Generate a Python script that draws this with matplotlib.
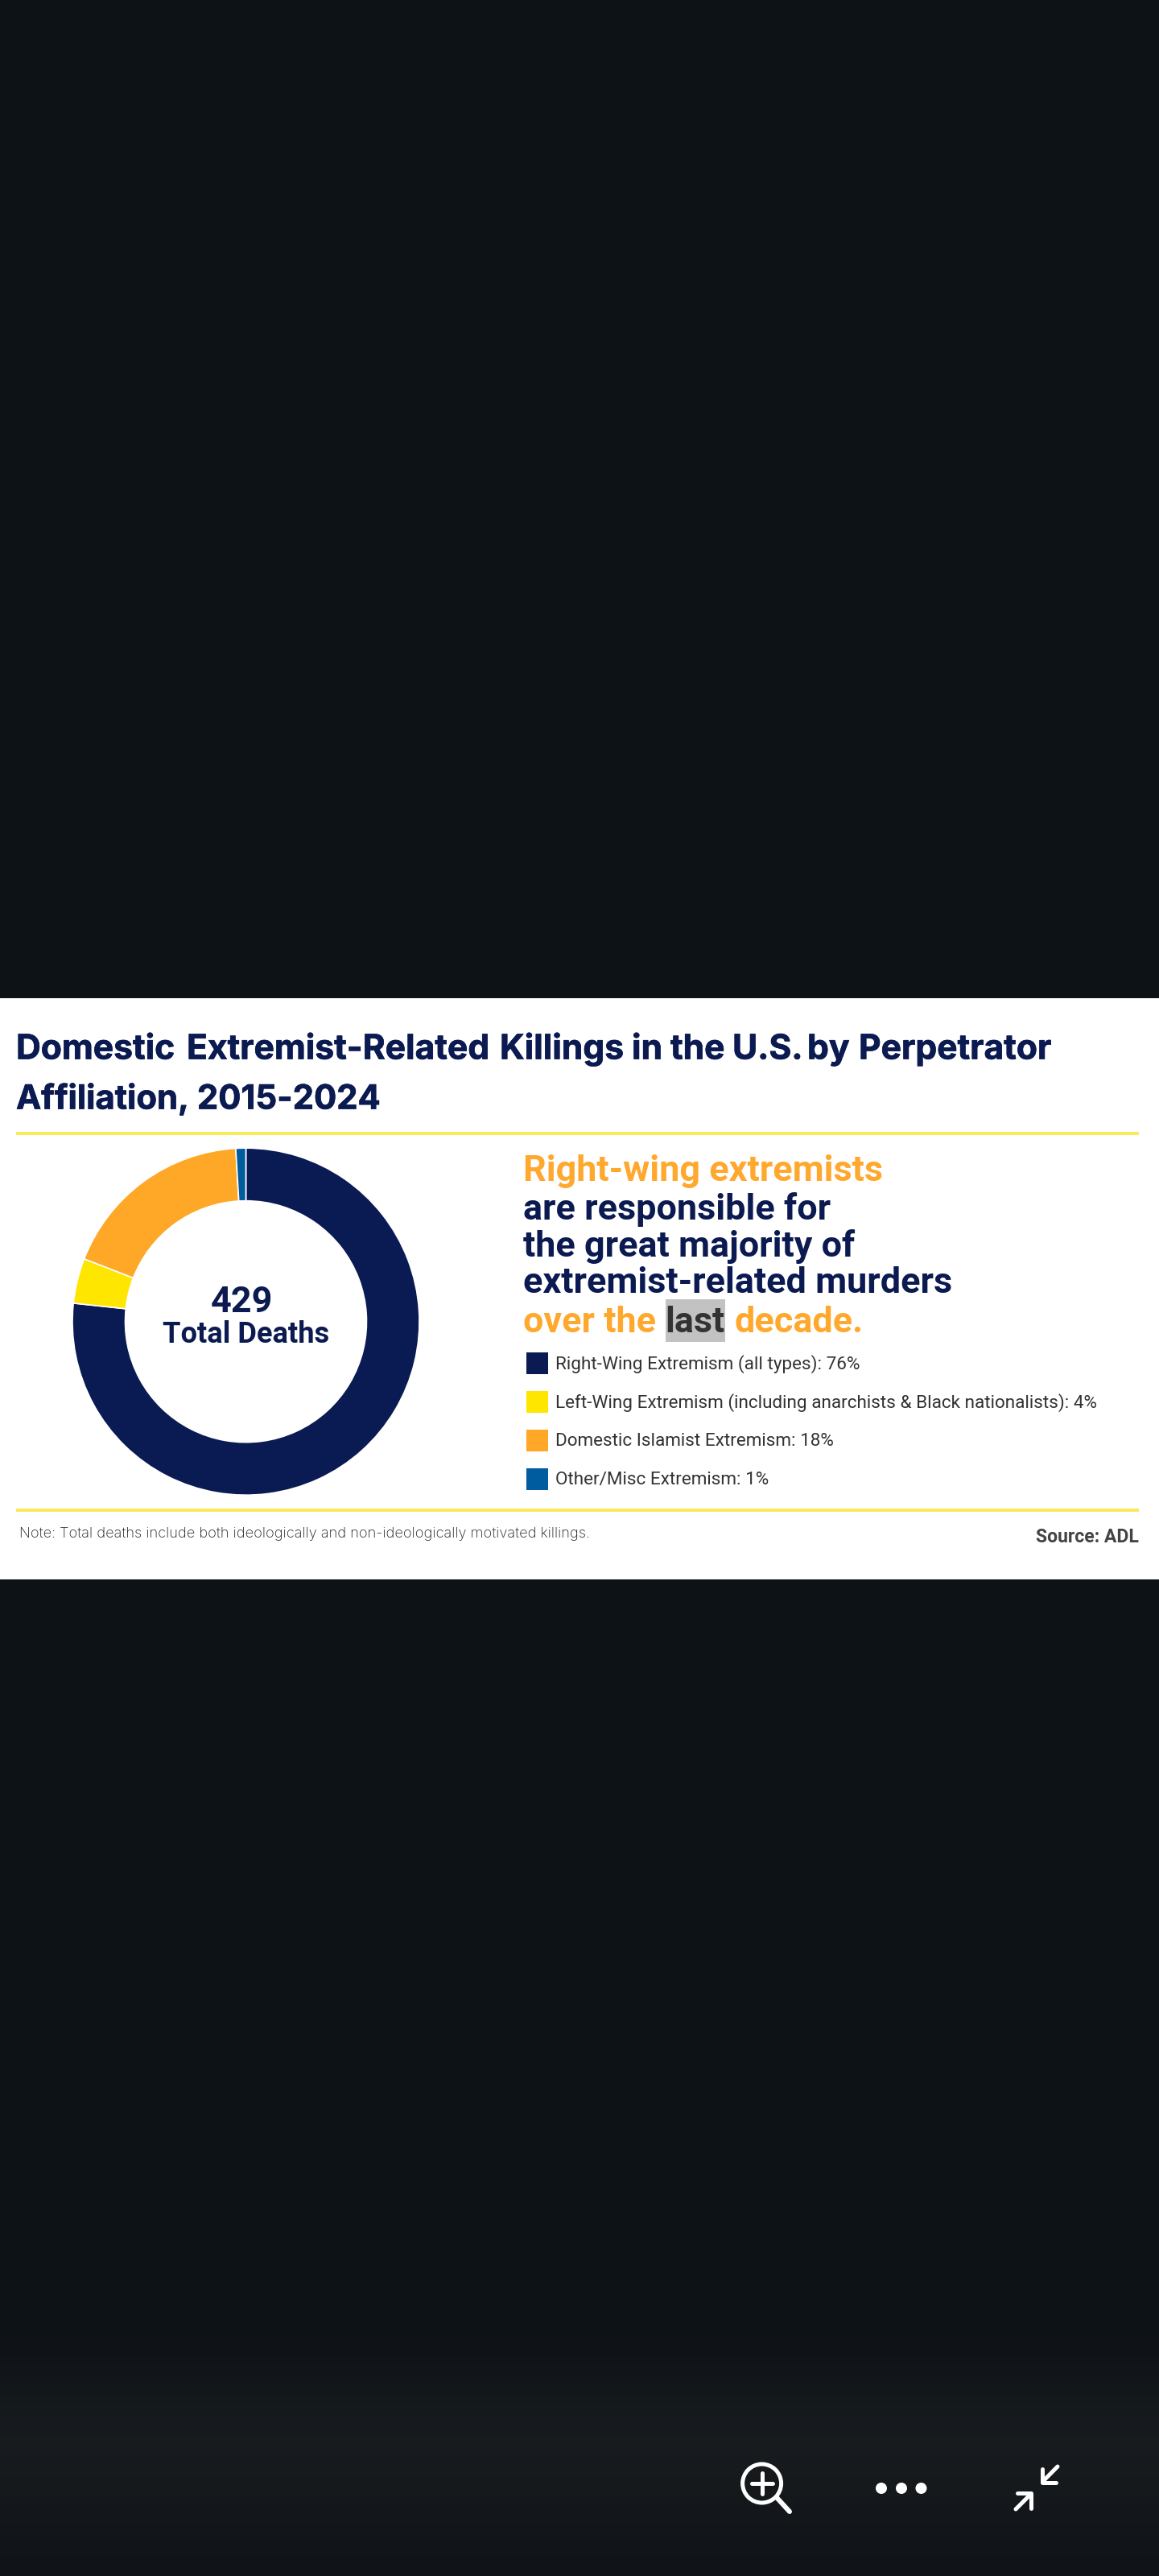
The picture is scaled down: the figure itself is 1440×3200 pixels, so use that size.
import matplotlib
matplotlib.use("Agg")
import matplotlib.pyplot as plt
import matplotlib.patheffects as pe
import numpy as np
from matplotlib.colors import LinearSegmentedColormap
from matplotlib.patches import Circle, Rectangle

# deaths by group
groups = ["Right-Wing Extremism (all types): 76%",
          "Left-Wing Extremism (including anarchists & Black nationalists): 4%",
          "Domestic Islamist Extremism: 18%",
          "Other/Misc Extremism: 1%"]
deaths = [329, 18, 78, 4]
colors = ["#0a1a52", "#ffe600", "#ffa726", "#005b9f"]

title_words = ["Domestic", "Extremist-Related", "Killings", "in", "the", "U.S.", "by", "Perpetrator"]
title_x = [20, 232, 621, 785, 833, 910, 1003, 1067]
NAVY = "#0b1a50"
ORANGE = "#ffa82e"
RULE = "#fbe95c"
PX = 0.72  # font points per pixel at dpi 100

fig = plt.figure(figsize=(14.4, 32), dpi=100)
bg = fig.add_axes([0, 0, 1, 1])
bg.axis("off")

# dark app background with the faint band behind the toolbar
cmap = LinearSegmentedColormap.from_list(
    "toolbar", [(0, "#0d1216"), (0.905, "#0d1216"), (0.95, "#181c1f"), (1, "#101418")])
bg.imshow(np.linspace(0, 1, 640).reshape(-1, 1), cmap=cmap, extent=(0, 1440, 3200, 0),
          aspect="auto", vmin=0, vmax=1)
bg.set_xlim(0, 1440)
bg.set_ylim(3200, 0)

bg.add_patch(Rectangle((0, 1240), 1440, 721.5, color="white", lw=0))
bg.plot([20, 1415], [1407.5, 1407.5], color=RULE, lw=4 * PX, solid_capstyle="butt")
bg.plot([20, 1415], [1875.5, 1875.5], color=RULE, lw=4 * PX, solid_capstyle="butt")

heavier = [pe.withStroke(linewidth=0.7 * PX, foreground=NAVY)]
for word, x in zip(title_words, title_x):
    bg.text(x, 1315.5, word, family="Inter", weight="bold", fontsize=42.6 * PX, color=NAVY,
            va="baseline", path_effects=heavier)
bg.text(20, 1377.5, "Affiliation, 2015-2024", family="Inter", weight="bold", fontsize=41.8 * PX,
        color=NAVY, va="baseline", path_effects=heavier)

# donut
cx, cy, r = 305.5, 1641.7, 215.5
pie_ax = fig.add_axes([(cx - r) / 1440, 1 - (cy + r) / 3200, 2 * r / 1440, 2 * r / 3200])
pie_ax.pie(deaths, colors=colors, startangle=90, counterclock=False, radius=1,
           wedgeprops={"width": 0.304, "edgecolor": "white", "linewidth": 1.2})
pie_ax.set_xlim(-1, 1)
pie_ax.set_ylim(-1, 1)

bg.set_zorder(0)
pie_ax.set_zorder(1)
top = fig.add_axes([0, 0, 1, 1], facecolor="none")
top.set_xlim(0, 1440)
top.set_ylim(3200, 0)
top.axis("off")
top.set_zorder(2)

top.text(300, 1630, "429", family="Roboto", weight="bold", fontsize=45 * PX, color=NAVY,
         ha="center", va="baseline")
top.text(305.8, 1667.5, "Total Deaths", family="Roboto", weight="bold", fontsize=36.3 * PX,
         color=NAVY, ha="center", va="baseline")

# headline
head = 45 * PX
top.text(650.5, 1466.5, "Right-wing extremists", family="Roboto", weight="bold", fontsize=head,
         color=ORANGE, va="baseline")
for line, y in zip(["are responsible for", "the great majority of", "extremist-related murders"],
                   [1515, 1560.5, 1606]):
    top.text(650.5, y, line, family="Roboto", weight="bold", fontsize=head, color=NAVY,
             va="baseline")
top.text(650.5, 1655, "over the", family="Roboto", weight="bold", fontsize=head, color=ORANGE,
         va="baseline")
top.add_patch(Rectangle((826.6, 1613.5), 74.4, 53.5, color="#c2c2c2", lw=0))
top.text(826, 1655, "last", family="Roboto", weight="bold", fontsize=head, color="#333333",
         va="baseline")
top.text(912, 1655, "decade.", family="Roboto", weight="bold", fontsize=head, color=ORANGE,
         va="baseline")

# legend
for label, color, y in zip(groups, colors, [1693.5, 1741.5, 1789.5, 1837.5]):
    top.add_patch(Rectangle((654, y - 13.5), 26.7, 27, color=color, lw=0))
    top.text(690, y + 1, label, family="Roboto", fontsize=22.45 * PX, color="#333333", va="center")

top.text(24, 1905.5, "Note: Total deaths include both ideologically and non-ideologically "
         "motivated killings.", family="Inter", weight="light", fontsize=18.2 * PX,
         color="#222222", va="center")
top.text(1415, 1909, "Source: ADL", family="Roboto", weight="bold", fontsize=23 * PX,
         color="#444444", ha="right", va="center")

# toolbar icons
ICON = {"color": "white", "lw": 5 * PX, "solid_capstyle": "round"}
top.add_patch(Circle((946.6, 3085), 24, fill=False, ec="white", lw=5 * PX))
top.plot([933.5, 959.5], [3085, 3085], **ICON)
top.plot([946.6, 946.6], [3072, 3098], **ICON)
top.plot([965.4, 981], [3103, 3120], color="white", lw=6 * PX, solid_capstyle="round")
for x in [1095, 1120, 1144.5]:
    top.add_patch(Circle((x, 3091), 7, color="white", lw=0))
top.plot([1314, 1296.5], [3064, 3081.7], **ICON)
top.plot([1295.4, 1295.4, 1312], [3066.7, 3084, 3084], **ICON)
top.plot([1262, 1281], [3117, 3098], **ICON)
top.plot([1264, 1281, 1281], [3097, 3097, 3116], **ICON)

fig.savefig("out.png", dpi=100)
plt.close(fig)
